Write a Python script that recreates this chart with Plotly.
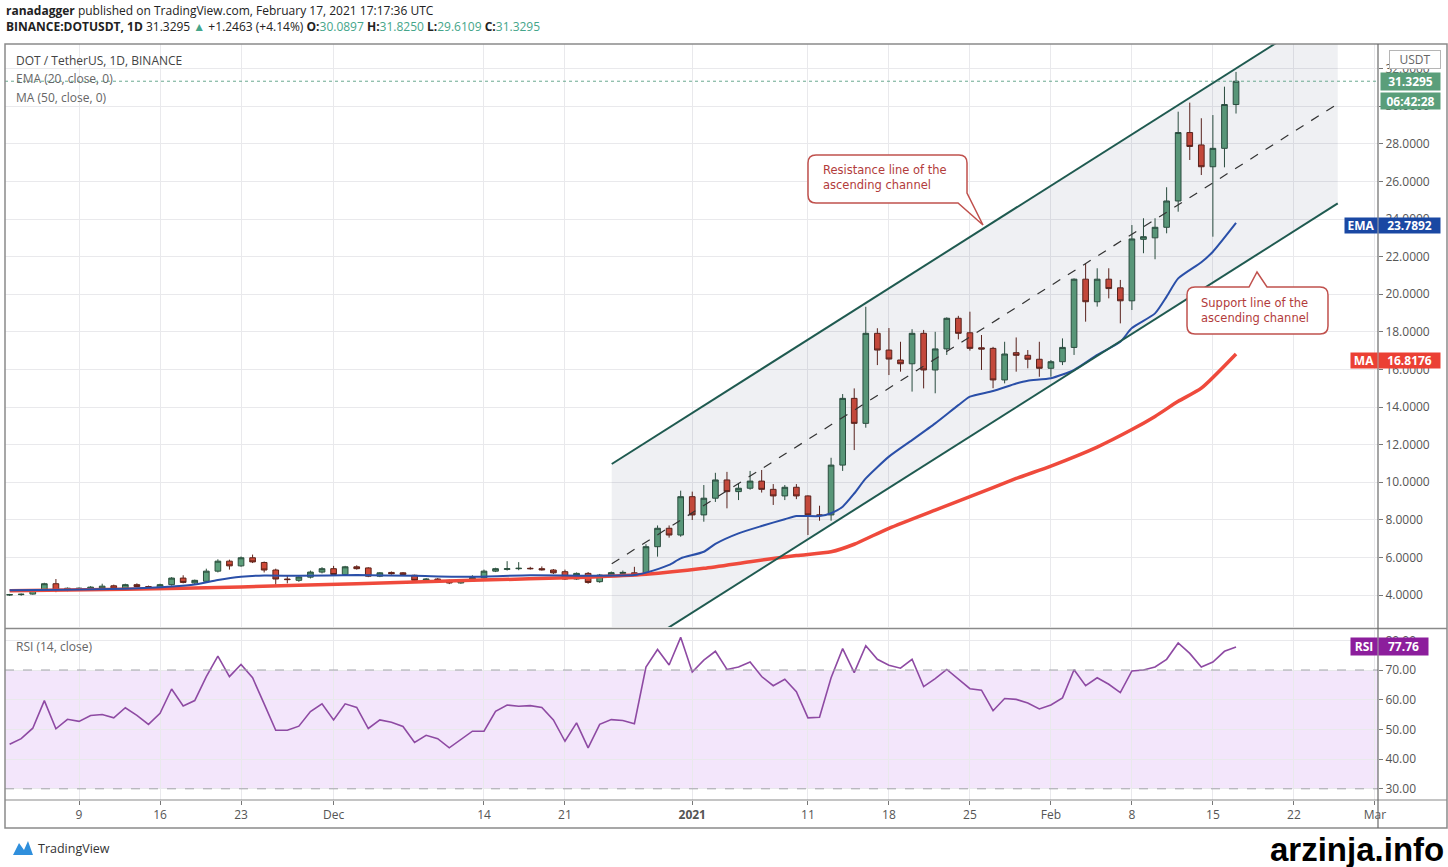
import pandas as pd
import plotly.graph_objects as go

# ---------------- data ----------------
dates = pd.date_range("2020-11-03", periods=107, freq="D")

opens = [4.00, 4.02, 4.05, 4.24, 4.60, 4.24, 4.30, 4.32, 4.36, 4.49,
         4.36, 4.55, 4.45, 4.36, 4.55, 4.90, 4.64, 4.73, 5.27, 5.80,
         5.55, 5.98, 5.73, 5.33, 4.85, 4.78, 4.95, 5.22, 5.40, 5.09,
         5.50, 5.44, 5.00, 5.20, 5.18, 5.05, 4.78, 4.85, 4.78, 4.64,
         4.75, 4.91, 5.27, 5.36, 5.40, 5.42, 5.40, 5.33, 5.24, 4.85,
         5.15, 4.71, 5.06, 5.15, 5.18, 5.15, 6.57, 7.55, 7.19, 9.23,
         8.26, 9.15, 10.12, 9.50, 9.68, 10.06, 9.62, 9.27, 9.73, 9.27,
         8.26, 8.26, 10.91, 14.46, 13.13, 17.92, 17.03, 16.50, 16.30, 17.92,
         15.97, 17.09, 18.72, 17.95, 17.15, 17.12, 15.44, 16.89, 16.75, 16.54,
         16.06, 16.41, 17.17, 20.80, 19.60, 20.80, 20.34, 19.65, 22.92, 23.00,
         23.56, 24.96, 28.60, 27.94, 26.78, 27.76, 30.0897]
highs = [4.06, 4.08, 4.28, 4.65, 4.85, 4.40, 4.40, 4.47, 4.60, 4.55,
         4.60, 4.62, 4.50, 4.60, 4.95, 5.05, 4.82, 5.40, 5.90, 5.88,
         6.05, 6.15, 5.78, 5.40, 5.05, 5.00, 5.30, 5.48, 5.55, 5.55,
         5.58, 5.48, 5.22, 5.25, 5.22, 5.08, 4.90, 4.90, 4.82, 4.82,
         5.05, 5.35, 5.45, 5.80, 5.75, 5.50, 5.52, 5.38, 5.35, 5.20,
         5.22, 5.12, 5.25, 5.30, 5.50, 6.70, 7.70, 7.70, 9.55, 9.50,
         9.85, 10.50, 10.55, 9.95, 10.60, 10.65, 9.90, 9.85, 9.90, 9.30,
         8.75, 11.30, 14.69, 14.99, 19.33, 18.19, 18.20, 17.47, 18.14, 18.10,
         18.00, 18.77, 18.85, 19.07, 17.83, 17.20, 17.47, 17.70, 17.03, 17.47,
         16.50, 17.65, 20.84, 21.64, 21.38, 21.38, 20.76, 23.68, 24.04, 24.04,
         25.69, 29.71, 30.19, 29.36, 29.53, 31.04, 31.8250]
lows = [3.95, 3.96, 4.02, 4.20, 4.15, 4.20, 4.25, 4.28, 4.32, 4.33,
        4.32, 4.42, 4.28, 4.32, 4.50, 4.62, 4.58, 4.68, 5.20, 5.35,
        5.50, 5.70, 5.20, 4.55, 4.62, 4.70, 4.88, 5.15, 5.02, 5.05,
        5.35, 4.95, 4.95, 5.08, 5.02, 4.72, 4.72, 4.76, 4.58, 4.60,
        4.72, 4.88, 5.22, 5.30, 5.32, 5.35, 5.30, 5.12, 4.80, 4.80,
        4.60, 4.65, 5.00, 5.05, 5.05, 5.10, 6.04, 7.05, 7.10, 7.99,
        7.90, 8.95, 8.61, 9.05, 9.60, 9.45, 8.79, 9.05, 9.10, 7.19,
        7.95, 7.95, 10.60, 11.71, 12.90, 16.23, 15.70, 15.88, 14.82, 14.99,
        14.73, 16.77, 17.60, 17.00, 15.97, 15.00, 15.26, 15.88, 16.06, 15.61,
        15.61, 16.23, 16.77, 18.54, 19.34, 19.78, 18.45, 19.16, 22.18, 21.86,
        23.24, 24.39, 27.14, 26.34, 23.06, 26.75, 29.6109]
closes = [4.02, 4.04, 4.24, 4.60, 4.24, 4.36, 4.36, 4.42, 4.47, 4.36,
          4.55, 4.45, 4.33, 4.55, 4.90, 4.67, 4.78, 5.27, 5.80, 5.55,
          5.98, 5.76, 5.33, 4.85, 4.82, 4.96, 5.22, 5.40, 5.09, 5.50,
          5.40, 5.00, 5.18, 5.13, 5.09, 4.78, 4.85, 4.80, 4.64, 4.78,
          4.93, 5.27, 5.40, 5.40, 5.42, 5.40, 5.34, 5.18, 4.85, 5.15,
          4.67, 5.06, 5.19, 5.20, 5.12, 6.57, 7.55, 7.19, 9.23, 8.26,
          9.15, 10.12, 9.50, 9.68, 10.06, 9.62, 9.27, 9.73, 9.27, 8.26,
          8.24, 10.91, 14.46, 13.13, 17.92, 17.03, 16.55, 16.30, 17.92, 15.97,
          17.09, 18.72, 17.92, 17.12, 17.08, 15.44, 16.82, 16.75, 16.54, 16.06,
          16.41, 17.17, 20.80, 19.60, 20.80, 20.30, 19.65, 22.94, 23.06, 23.56,
          24.96, 28.60, 27.86, 26.78, 27.76, 30.09, 31.3295]

ema_dates = ["2020-11-03", "2020-11-08", "2020-11-13", "2020-11-17", "2020-11-19",
             "2020-11-21", "2020-11-23", "2020-11-25", "2020-11-28", "2020-12-03",
             "2020-12-08", "2020-12-13", "2020-12-18", "2020-12-23", "2020-12-27",
             "2020-12-28", "2020-12-30", "2020-12-31", "2021-01-02", "2021-01-03",
             "2021-01-05", "2021-01-07", "2021-01-09", "2021-01-10", "2021-01-12",
             "2021-01-13", "2021-01-14", "2021-01-15", "2021-01-16", "2021-01-18",
             "2021-01-20", "2021-01-22", "2021-01-24", "2021-01-25", "2021-01-27",
             "2021-01-29", "2021-01-30", "2021-02-01", "2021-02-03", "2021-02-05",
             "2021-02-07", "2021-02-08", "2021-02-10", "2021-02-11", "2021-02-12",
             "2021-02-14", "2021-02-15", "2021-02-17"]
ema_vals = [4.25, 4.28, 4.33, 4.45, 4.56, 4.80, 4.97, 5.04, 5.02, 5.06,
            5.02, 4.97, 5.05, 5.03, 5.06, 5.19, 5.60, 5.95, 6.30, 6.72,
            7.28, 7.67, 8.03, 8.20, 8.20, 8.35, 8.70, 9.40, 10.20, 11.36,
            12.24, 13.13, 14.10, 14.55, 14.85, 15.25, 15.40, 15.53, 15.97, 16.77,
            17.47, 18.20, 18.98, 19.87, 20.84, 21.70, 22.26, 23.7892]

ma_dates = ["2020-11-03", "2020-11-13", "2020-11-23", "2020-12-03", "2020-12-13",
            "2020-12-23", "2020-12-28", "2021-01-02", "2021-01-06", "2021-01-10",
            "2021-01-13", "2021-01-15", "2021-01-18", "2021-01-22", "2021-01-25",
            "2021-01-29", "2021-02-01", "2021-02-05", "2021-02-08", "2021-02-10",
            "2021-02-12", "2021-02-14", "2021-02-17"]
ma_vals = [4.22, 4.30, 4.43, 4.60, 4.78, 4.95, 5.10, 5.42, 5.77, 6.10,
           6.30, 6.70, 7.55, 8.52, 9.23, 10.20, 10.86, 11.87, 12.80, 13.50,
           14.30, 15.00, 16.8176]

rsi_vals = [45.0, 46.9, 50.4, 59.7, 50.2, 53.4, 52.7, 54.7, 55.0, 53.9,
            57.3, 54.7, 51.7, 55.4, 63.6, 57.9, 59.7, 67.8, 74.7, 67.8,
            71.9, 67.4, 58.6, 49.7, 49.7, 51.1, 56.0, 58.6, 53.2, 58.6,
            57.4, 50.3, 53.2, 52.4, 51.0, 45.6, 48.0, 46.9, 43.8, 46.6,
            49.4, 49.4, 56.1, 58.2, 57.8, 58.0, 57.4, 53.2, 46.0, 52.2,
            43.8, 51.7, 53.3, 53.0, 51.9, 71.0, 76.9, 71.7, 81.0, 69.3,
            73.3, 76.3, 70.2, 71.0, 72.7, 67.8, 64.7, 66.9, 62.7, 53.9,
            54.1, 67.4, 77.2, 69.1, 78.2, 73.6, 71.6, 70.6, 73.6, 64.4,
            67.1, 70.2, 66.9, 63.7, 63.2, 56.3, 60.4, 60.1, 58.9, 56.9,
            58.2, 60.6, 70.1, 64.7, 67.4, 65.2, 62.4, 69.7, 70.0, 71.0,
            73.6, 79.1, 75.6, 71.0, 72.7, 76.3, 77.76]

# ascending channel anchors (start / end of the drawing)
chan_dates = ["2020-12-25 01:00", "2021-02-25 19:00"]
chan_upper = [10.97, 35.44]
chan_mid = [5.66, 30.13]
chan_lower = [0.35, 24.83]

tick_dates = ["2020-11-09", "2020-11-16", "2020-11-23", "2020-12-01", "2020-12-14",
              "2020-12-21", "2021-01-01", "2021-01-11", "2021-01-18", "2021-01-25",
              "2021-02-01", "2021-02-08", "2021-02-15", "2021-02-22", "2021-03-01"]
tick_text = ["9", "16", "23", "Dec", "14", "21", "<b>2021</b>", "11", "18", "25",
             "Feb", "8", "15", "22", "Mar"]

last_price = 31.3295
ema_last = 23.7892
ma_last = 16.8176
rsi_last = 77.76

# ---------------- helpers (pixel -> paper) ----------------
W, H = 1448, 867
ML, MR, MT, MB = 5, 70, 44, 67
PW, PH = W - ML - MR, H - MT - MB


def px(x):
    return (x - ML) / PW


def py(y):
    return (H - MB - y) / PH


def path(points):
    s = ""
    for cmd, *pts in points:
        s += cmd
        for (x, y) in pts:
            s += f" {px(x):.5f},{py(y):.5f}"
        s += " "
    return s + "Z"


AXFONT = "Liberation Sans Narrow, Arial Narrow, Open Sans, sans-serif"
TXTFONT = "Open Sans, Noto Sans, sans-serif"

fig = go.Figure()

# channel fill (translucent so the candles underneath stay visible)
fig.add_trace(go.Scatter(
    x=[chan_dates[0], chan_dates[1], chan_dates[1], chan_dates[0]],
    y=[chan_upper[0], chan_upper[1], chan_lower[1], chan_lower[0]],
    fill="toself", fillcolor="rgba(40,60,100,0.075)", line=dict(width=0), mode="lines",
    hoverinfo="skip", xaxis="x", yaxis="y"))

# MA and EMA
fig.add_trace(go.Scatter(x=ma_dates, y=ma_vals, mode="lines",
                         line=dict(color="#ef4a3c", width=3.5, shape="spline", smoothing=0.6),
                         xaxis="x", yaxis="y"))
fig.add_trace(go.Scatter(x=ema_dates, y=ema_vals, mode="lines",
                         line=dict(color="#2a4fa8", width=2, shape="spline", smoothing=0.6),
                         xaxis="x", yaxis="y"))

# candles
fig.add_trace(go.Candlestick(
    x=dates, open=opens, high=highs, low=lows, close=closes,
    increasing=dict(fillcolor="#5c9e7b", line=dict(color="#2b4f3d", width=1)),
    decreasing=dict(fillcolor="#d04a39", line=dict(color="#5e2219", width=1)),
    whiskerwidth=0, xaxis="x", yaxis="y"))

# channel lines
fig.add_trace(go.Scatter(x=chan_dates, y=chan_upper, mode="lines",
                         line=dict(color="#1f5a50", width=2), xaxis="x", yaxis="y"))
fig.add_trace(go.Scatter(x=chan_dates, y=chan_lower, mode="lines",
                         line=dict(color="#1f5a50", width=2), xaxis="x", yaxis="y"))
fig.add_trace(go.Scatter(x=chan_dates, y=chan_mid, mode="lines",
                         line=dict(color="#333333", width=1.2, dash="dash"), xaxis="x", yaxis="y"))

# RSI
fig.add_trace(go.Scatter(x=dates, y=rsi_vals, mode="lines",
                         line=dict(color="#8e4aa3", width=1.6), xaxis="x2", yaxis="y2"))

xrange = ["2020-11-02 14:24", "2021-03-01 06:30"]
grid = "#e9e9ec"

fig.update_layout(
    width=W, height=H, margin=dict(l=ML, r=MR, t=MT, b=MB),
    paper_bgcolor="white", plot_bgcolor="white", showlegend=False,
    hovermode=False,
    xaxis=dict(domain=[0, 1], anchor="y", type="date", range=xrange,
               tickvals=tick_dates, ticktext=tick_text, showticklabels=False,
               showgrid=True, gridcolor=grid, zeroline=False,
               rangeslider=dict(visible=False), ticks=""),
    xaxis2=dict(domain=[0, 1], anchor="y2", type="date", range=xrange, matches="x",
                tickvals=tick_dates, ticktext=tick_text, showticklabels=True,
                showgrid=True, gridcolor=grid, zeroline=False,
                ticks="outside", ticklen=4, tickcolor="#777",
                tickfont=dict(family=AXFONT, size=12, color="#555")),
    yaxis=dict(domain=[py(627), 1], anchor="x", side="right",
               range=[2.298, 33.31], dtick=2, tick0=0, tickformat=".4f",
               showgrid=True, gridcolor=grid, zeroline=False,
               ticks="outside", ticklen=4, tickcolor="#777",
               tickfont=dict(family=AXFONT, size=12, color="#555")),
    yaxis2=dict(domain=[0, py(630)], anchor="x2", side="right",
                range=[26.23, 83.47], tickvals=[30, 40, 50, 60, 70, 80],
                tickformat=".2f", showgrid=True, gridcolor=grid, zeroline=False,
                ticks="outside", ticklen=4, tickcolor="#777",
                tickfont=dict(family=AXFONT, size=12, color="#555")),
)

shapes = []
# RSI band and its dashed bounds
shapes.append(dict(type="rect", xref="x2 domain", yref="y2", x0=0, x1=1, y0=30, y1=70,
                   fillcolor="#f3e6fb", line=dict(width=0), layer="below"))
for lvl in (30, 70):
    shapes.append(dict(type="line", xref="x2 domain", yref="y2", x0=0, x1=1, y0=lvl, y1=lvl,
                       line=dict(color="#a3a3ab", width=1, dash="dash")))
# last price dotted line
shapes.append(dict(type="line", xref="x domain", yref="y", x0=0, x1=1, y0=last_price, y1=last_price,
                   line=dict(color="#6aa88f", width=1, dash="dot")))
# frame
shapes.append(dict(type="rect", xref="paper", yref="paper", x0=px(5), x1=px(1447), y0=py(828), y1=py(44),
                   line=dict(color="#8a8a8a", width=1.5), fillcolor="rgba(0,0,0,0)"))
shapes.append(dict(type="line", xref="paper", yref="paper", x0=px(5), x1=px(1447), y0=py(628.5), y1=py(628.5),
                   line=dict(color="#8a8a8a", width=1.5)))
shapes.append(dict(type="line", xref="paper", yref="paper", x0=px(5), x1=px(1447), y0=py(800), y1=py(800),
                   line=dict(color="#8a8a8a", width=1.2)))
shapes.append(dict(type="line", xref="paper", yref="paper", x0=px(1378), x1=px(1378), y0=py(828), y1=py(44),
                   line=dict(color="#6a6a6a", width=1.2)))
# callouts
res_path = path([("M", (816, 155)), ("L", (959, 155)), ("Q", (967, 155), (967, 163)),
                 ("L", (967, 193)), ("L", (983, 225)), ("L", (958, 203)), ("L", (816, 203)),
                 ("Q", (808, 203), (808, 195)), ("L", (808, 163)), ("Q", (808, 155), (816, 155))])
sup_path = path([("M", (1195, 287)), ("L", (1249, 287)), ("L", (1257, 272)), ("L", (1267, 287)),
                 ("L", (1320, 287)), ("Q", (1328, 287), (1328, 295)), ("L", (1328, 326)),
                 ("Q", (1328, 334), (1320, 334)), ("L", (1195, 334)), ("Q", (1187, 334), (1187, 326)),
                 ("L", (1187, 295)), ("Q", (1187, 287), (1195, 287))])
for p in (res_path, sup_path):
    shapes.append(dict(type="path", xref="paper", yref="paper", path=p,
                       fillcolor="white", line=dict(color="#c0514d", width=1.5)))
# TradingView logo glyph
shapes.append(dict(type="path", xref="paper", yref="paper",
                   path=path([("M", (13, 855)), ("L", (19, 843)), ("L", (24, 850)), ("L", (28, 841)),
                              ("L", (33, 855))]),
                   fillcolor="#2f8fdc", line=dict(width=0)))
fig.update_layout(shapes=shapes)

ann = []


def text(x, y, s, size=12, color="#333", family=TXTFONT, xanchor="left", yanchor="middle", **kw):
    ann.append(dict(xref="paper", yref="paper", x=px(x), y=py(y), text=s, showarrow=False,
                    xanchor=xanchor, yanchor=yanchor, align="left",
                    font=dict(family=family, size=size, color=color), **kw))


text(4, 10, "<b>ranadagger</b> published on TradingView.com, February 17, 2021 17:17:36 UTC", 12, "#222")
teal = "#45a58a"
text(4, 27, f"<b>BINANCE:DOTUSDT, 1D</b> 31.3295 <span style='color:{teal}'>▲</span> +1.2463 (+4.14%) "
            f"<b>O:</b><span style='color:{teal}'>30.0897</span> <b>H:</b><span style='color:{teal}'>31.8250</span> "
            f"<b>L:</b><span style='color:{teal}'>29.6109</span> <b>C:</b><span style='color:{teal}'>31.3295</span>",
     12, "#222")
text(14, 60, "DOT / TetherUS, 1D, BINANCE", 12, "#444")
text(14, 79, "EMA (20, close, 0)", 12, "#666")
text(14, 97, "MA (50, close, 0)", 12, "#666")
text(14, 646, "RSI (14, close)", 12, "#666")
text(821, 178, "Resistance line of the<br>ascending channel", 11.5, "#b23b3b",
     family="DejaVu Sans, Verdana, sans-serif")
text(1199, 310.5, "Support line of the<br>ascending channel", 11.5, "#b23b3b",
     family="DejaVu Sans, Verdana, sans-serif")
text(36, 848, "TradingView", 12.5, "#333")
text(1446, 849, "<b>arzinja.info</b>", 33, "#000", family="Liberation Sans, Arial, sans-serif",
     xanchor="right")


def badge(x0, x1, yc, s, bg, fg="white", h=16, border=None):
    d = dict(xref="paper", yref="paper", x=px((x0 + x1) / 2), y=py(yc), text=s, showarrow=False,
             xanchor="center", yanchor="middle", width=x1 - x0, height=h, bgcolor=bg,
             font=dict(family=AXFONT, size=12, color=fg), borderpad=0)
    if border:
        d.update(bordercolor=border, borderwidth=1)
    ann.append(d)


badge(1390, 1440, 59, "USDT", "white", "#666", h=17, border="#b5b5b5")
badge(1381, 1440, 82, f"<b>{last_price:.4f}</b>", "#5a9e7a", h=17)
badge(1381, 1440, 101, "<b>06:42:28</b>", "#5a9e7a", h=16)
badge(1345, 1377, 226, "<b>EMA</b>", "#1a48a3", h=15)
badge(1379, 1440, 226, f"<b>{ema_last:.4f}</b>", "#1a48a3", h=15)
badge(1351, 1377, 360.5, "<b>MA</b>", "#eb4034", h=15)
badge(1379, 1440, 360.5, f"<b>{ma_last:.4f}</b>", "#eb4034", h=15)
badge(1351, 1377, 646, "<b>RSI</b>", "#8c1e9c", h=17)
badge(1379, 1428, 646, f"<b>{rsi_last:.2f}</b>", "#8c1e9c", h=17)

fig.update_layout(annotations=ann)
fig.write_html("out.html", config={"displayModeBar": False},
               post_script="document.body.style.margin='0';document.body.style.overflow='hidden';")
